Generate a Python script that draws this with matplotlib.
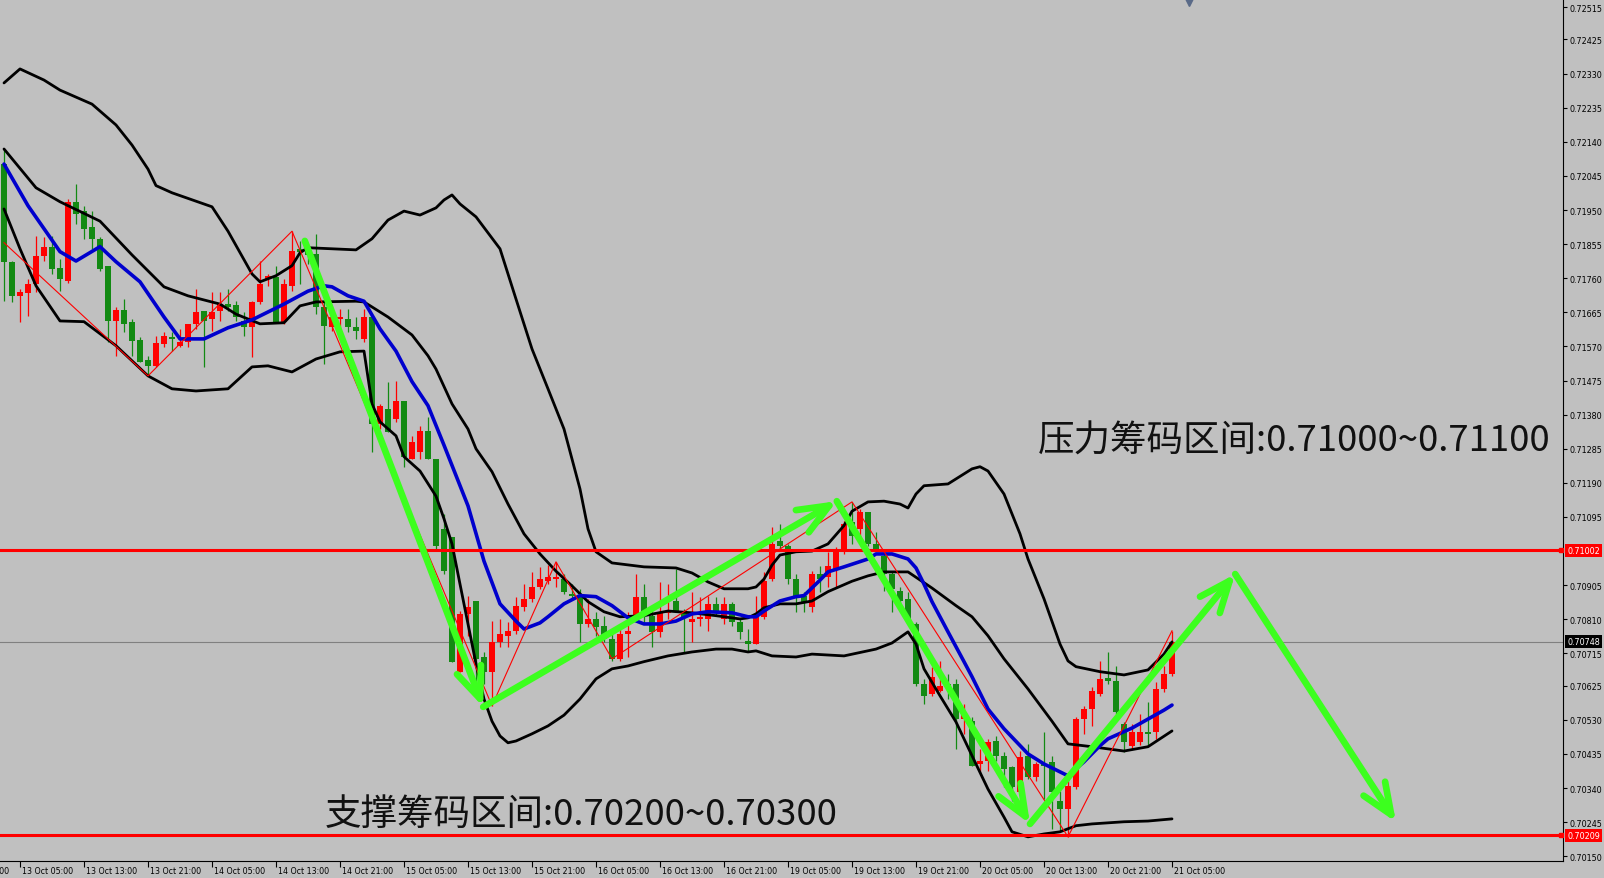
import matplotlib
matplotlib.use('Agg')
import matplotlib.pyplot as plt
import matplotlib.transforms as mtransforms
import numpy as np

PT = 1e-5  # prices below are written in points (0.00001)

# ---------------- candles (H1, 13 Oct 03:00 -> 21 Oct 05:00) ----------------
open_pts = [72078, 71806, 71711, 71719, 71744, 71823, 71848, 71789, 71752, 71973,
            71947, 71903, 71870, 71795, 71641, 71671, 71639, 71588, 71532, 71516,
            71577, 71597, 71572, 71583, 71633, 71668, 71647, 71668, 71688, 71685,
            71641, 71625, 71694, 71758, 71764, 71639, 71739, 71842, 71836, 71828,
            71680, 71625, 71647, 71647, 71625, 71591, 71652, 71354, 71396, 71368,
            71418, 71257, 71277, 71334, 71257, 71062, 71040, 70664, 70825, 70861,
            70705, 70664, 70747, 70764, 70778, 70845, 70867, 70900, 70916, 70922,
            70922, 70881, 70876, 70797, 70811, 70792, 70755, 70700, 70769, 70820,
            70873, 70820, 70775, 70828, 70861, 70833, 70803, 70811, 70811, 70853,
            70811, 70853, 70803, 70750, 70741, 70817, 70922, 71028, 71015, 70922,
            70876, 70845, 70936, 70927, 70950, 71001, 71081, 71062, 71109, 71020,
            70987, 70936, 70889, 70867, 70797, 70630, 70602, 70611, 70630, 70630,
            70532, 70527, 70407, 70415, 70471, 70430, 70399, 70329, 70430, 70371,
            70407, 70413, 70304, 70282, 70343, 70532, 70560, 70602, 70647, 70639,
            70519, 70458, 70469, 70496, 70496, 70616, 70658]
high_pts = [72120, 71808, 71730, 71758, 71878, 71875, 71878, 71814, 71981, 72023,
            71962, 71947, 71875, 71795, 71680, 71702, 71647, 71597, 71544, 71600,
            71611, 71611, 71619, 71633, 71730, 71668, 71722, 71722, 71730, 71696,
            71666, 71696, 71808, 71772, 71795, 71758, 71891, 71864, 71856, 71883,
            71694, 71660, 71674, 71674, 71652, 71674, 71652, 71410, 71472, 71474,
            71418, 71321, 71349, 71374, 71257, 71103, 71040, 70833, 70876, 70861,
            70719, 70805, 70811, 70803, 70873, 70908, 70942, 70956, 70961, 70970,
            70936, 70908, 70895, 70867, 70831, 70820, 70769, 70789, 70831, 70936,
            70908, 70848, 70914, 70908, 70950, 70839, 70887, 70873, 70876, 70873,
            70873, 70859, 70811, 70783, 70876, 70942, 71068, 71076, 71020, 70936,
            70887, 70944, 70959, 70998, 71012, 71084, 71137, 71117, 71109, 71054,
            70992, 70942, 70900, 70887, 70803, 70644, 70678, 70694, 70658, 70644,
            70574, 70538, 70449, 70477, 70485, 70441, 70402, 70443, 70463, 70413,
            70496, 70430, 70332, 70365, 70538, 70569, 70622, 70694, 70719, 70680,
            70524, 70519, 70546, 70580, 70636, 70680, 70778]
low_pts = [71696, 71694, 71639, 71655, 71722, 71808, 71772, 71724, 71747, 71911,
           71870, 71842, 71780, 71583, 71544, 71611, 71544, 71527, 71488, 71513,
           71569, 71557, 71569, 71569, 71619, 71513, 71613, 71641, 71668, 71641,
           71600, 71541, 71688, 71739, 71639, 71633, 71724, 71744, 71800, 71660,
           71521, 71613, 71619, 71611, 71591, 71583, 71277, 71340, 71332, 71360,
           71235, 71257, 71257, 71257, 71006, 70936, 70692, 70664, 70764, 70625,
           70630, 70569, 70733, 70733, 70769, 70833, 70859, 70895, 70908, 70900,
           70881, 70867, 70747, 70789, 70764, 70747, 70694, 70694, 70705, 70820,
           70797, 70733, 70761, 70811, 70831, 70719, 70747, 70792, 70778, 70820,
           70797, 70792, 70755, 70722, 70741, 70811, 70916, 71006, 70908, 70831,
           70831, 70831, 70887, 70900, 70900, 70992, 71020, 71034, 71015, 71001,
           70889, 70831, 70848, 70803, 70625, 70574, 70597, 70608, 70588, 70449,
           70491, 70402, 70385, 70388, 70415, 70343, 70304, 70324, 70365, 70360,
           70310, 70226, 70218, 70204, 70337, 70491, 70513, 70597, 70630, 70546,
           70441, 70449, 70460, 70458, 70477, 70608, 70652]
close_pts = [71806, 71711, 71722, 71744, 71823, 71848, 71786, 71758, 71973, 71939,
             71897, 71870, 71786, 71641, 71671, 71633, 71585, 71527, 71516, 71580,
             71600, 71591, 71583, 71633, 71666, 71641, 71666, 71688, 71680, 71652,
             71625, 71694, 71744, 71767, 71639, 71744, 71836, 71834, 71825, 71680,
             71628, 71652, 71652, 71625, 71613, 71652, 71354, 71405, 71332, 71418,
             71263, 71304, 71334, 71257, 71015, 70944, 70692, 70825, 70845, 70700,
             70664, 70747, 70769, 70778, 70848, 70867, 70900, 70922, 70927, 70927,
             70887, 70876, 70797, 70811, 70789, 70755, 70700, 70769, 70778, 70873,
             70820, 70775, 70828, 70833, 70831, 70817, 70811, 70817, 70853, 70833,
             70853, 70803, 70775, 70741, 70817, 70916, 71020, 71015, 70922, 70873,
             70859, 70936, 70922, 70959, 71001, 71076, 71042, 71109, 71020, 71006,
             70936, 70895, 70861, 70811, 70630, 70597, 70650, 70625, 70622, 70532,
             70546, 70402, 70415, 70469, 70430, 70393, 70343, 70427, 70371, 70407,
             70402, 70329, 70282, 70346, 70532, 70560, 70610, 70644, 70639, 70552,
             70469, 70496, 70496, 70491, 70616, 70658, 70748]

# ---------------- indicator lines (bar index, points) ----------------
ub_i = [0, 2, 5, 7, 11, 14, 16, 18, 19, 21, 26, 28, 31, 32, 34, 36, 37, 38, 44, 46,
        48, 50, 52, 54, 55, 56, 57, 59, 62, 64, 66, 68, 70, 72, 73, 74, 76, 80, 84, 86,
        88, 90, 93, 94, 95, 96, 97, 99, 101, 103, 105, 106, 108, 110, 112, 113, 114, 115,
        118, 119, 121, 122, 123, 125, 127, 128, 130, 132, 133, 134, 137, 140, 143, 145, 146]
ub_v = [72304, 72343, 72312, 72284, 72245, 72187, 72131, 72064, 72018, 71998, 71959,
        71891, 71772, 71750, 71767, 71795, 71831, 71845, 71839, 71870, 71922, 71947,
        71936, 71956, 71978, 71992, 71967, 71931, 71842, 71702, 71563, 71452, 71340,
        71173, 71062, 70998, 70967, 70956, 70953, 70939, 70914, 70895, 70895, 70900,
        70922, 70961, 70989, 70998, 71000, 71020, 71071, 71111, 71137, 71139, 71131,
        71120, 71159, 71182, 71187, 71201, 71229, 71235, 71223, 71159, 71048, 70978,
        70867, 70741, 70694, 70678, 70664, 70655, 70669, 70713, 70747]

mid_i = [0, 4, 7, 12, 16, 20, 23, 27, 29, 32, 35, 37, 39, 44, 45, 48, 51, 53, 54, 56,
         58, 59, 61, 63, 65, 67, 69, 71, 73, 75, 77, 80, 83, 86, 89, 92, 93, 94, 95, 97,
         99, 101, 103, 106, 108, 110, 113, 114, 116, 119, 121, 123, 125, 128, 131, 133,
         136, 140, 143, 146]
mid_v = [72120, 72012, 71973, 71919, 71825, 71736, 71711, 71688, 71660, 71633, 71636,
         71683, 71694, 71696, 71694, 71652, 71602, 71544, 71507, 71410, 71340, 71285,
         71221, 71131, 71048, 70992, 70944, 70903, 70859, 70831, 70817, 70820, 70833,
         70828, 70820, 70811, 70814, 70825, 70842, 70853, 70853, 70861, 70887, 70916,
         70931, 70942, 70942, 70927, 70897, 70848, 70817, 70764, 70700, 70616, 70526,
         70463, 70455, 70443, 70455, 70499]

ma_i = [0, 3, 7, 9, 12, 14, 17, 20, 22, 25, 28, 31, 33, 35, 38, 40, 41, 43, 45, 47,
        49, 51, 53, 55, 58, 60, 62, 64, 65, 67, 68, 70, 72, 74, 76, 78, 80, 82, 84, 86,
        88, 91, 93, 94, 95, 97, 99, 100, 102, 103, 105, 108, 109, 111, 113, 114, 115,
        116, 118, 120, 121, 123, 125, 128, 130, 133, 135, 137, 138, 141, 143, 145, 146]
ma_v = [72078, 71962, 71834, 71808, 71848, 71806, 71750, 71652, 71591, 71591, 71622,
        71644, 71666, 71688, 71724, 71739, 71736, 71711, 71696, 71619, 71557, 71472,
        71405, 71295, 71126, 70972, 70853, 70805, 70783, 70800, 70817, 70853, 70876,
        70873, 70848, 70814, 70797, 70797, 70805, 70825, 70831, 70828, 70817, 70817,
        70833, 70861, 70873, 70876, 70919, 70942, 70956, 70978, 70992, 70992, 70978,
        70953, 70908, 70859, 70775, 70692, 70650, 70560, 70505, 70435, 70407, 70374,
        70413, 70458, 70477, 70507, 70532, 70557, 70571]

lb_i = [0, 2, 4, 7, 10, 14, 18, 21, 24, 28, 31, 33, 36, 39, 42, 45, 46, 47, 49, 50,
        52, 54, 55, 56, 57, 58, 59, 60, 61, 62, 63, 64, 66, 68, 70, 72, 74, 76, 78, 80,
        83, 86, 89, 91, 93, 94, 96, 99, 101, 105, 109, 111, 113, 114, 115, 117, 119,
        121, 123, 125, 126, 128, 130, 132, 134, 136, 140, 143, 146]
lb_v = [71953, 71842, 71739, 71641, 71639, 71572, 71488, 71452, 71446, 71452, 71513,
        71516, 71499, 71535, 71555, 71557, 71410, 71360, 71321, 71263, 71223, 71153,
        71090, 71020, 70908, 70797, 70686, 70588, 70526, 70485, 70466, 70471, 70491,
        70513, 70543, 70588, 70644, 70672, 70680, 70692, 70708, 70719, 70727, 70727,
        70719, 70722, 70708, 70705, 70713, 70708, 70727, 70744, 70775, 70741, 70672,
        70597, 70524, 70430, 70337, 70259, 70218, 70204, 70212, 70218, 70235, 70240,
        70246, 70248, 70254]

zz_i = [0, 18, 36, 61, 69, 76, 106, 133, 146]
zz_v = [71859, 71488, 71891, 70569, 70970, 70700, 71137, 70204, 70778]

# green hand-drawn arrows (bar index, points)
arr_i = [37.6, 59.9, 104.1, 128.25, 153.9, 174.0]
arr_v = [71864, 70566, 71139, 70240, 70936, 70245]

# horizontal levels
resistance_level = 0.71002
support_level = 0.70209
bid_level = 0.70748

price_ticks = [0.72515, 0.72425, 0.72330, 0.72235, 0.72140, 0.72045, 0.71950, 0.71855,
               0.71760, 0.71665, 0.71570, 0.71475, 0.71380, 0.71285, 0.71190, 0.71095,
               0.70905, 0.70810, 0.70715, 0.70625, 0.70530, 0.70435, 0.70340, 0.70245,
               0.70150]
time_tick_idx = [-6, 2, 10, 18, 26, 34, 42, 50, 58, 66, 74, 82, 90, 98, 106, 114, 122,
                 130, 138, 146]
time_tick_labels = ['12 Oct 21:00', '13 Oct 05:00', '13 Oct 13:00', '13 Oct 21:00',
                    '14 Oct 05:00', '14 Oct 13:00', '14 Oct 21:00', '15 Oct 05:00',
                    '15 Oct 13:00', '15 Oct 21:00', '16 Oct 05:00', '16 Oct 13:00',
                    '16 Oct 21:00', '19 Oct 05:00', '19 Oct 13:00', '19 Oct 21:00',
                    '20 Oct 05:00', '20 Oct 13:00', '20 Oct 21:00', '21 Oct 05:00']

text_res = '压力筹码区间:0.71000~0.71100'
text_sup = '支撑筹码区间:0.70200~0.70300'

# ---------------- styles ----------------
BG = '#C0C0C0'
RED = '#FF0000'
GREEN = '#138A13'
BLUE = '#0000CD'
LIME = '#3CFF1E'

W, H = 1604, 879
fig = plt.figure(figsize=(W / 100, H / 100), dpi=100, facecolor=BG)
ax = fig.add_axes([0, 17 / H, 1563 / W, 862 / H])
ax.set_facecolor(BG)

o = np.array(open_pts) * PT
h = np.array(high_pts) * PT
l = np.array(low_pts) * PT
c = np.array(close_pts) * PT
idx = np.arange(len(c))
cols = np.where(c >= o, RED, GREEN)

ax.axhline(bid_level, color='#808080', lw=0.8, zorder=1)
ax.vlines(idx, l, h, colors=cols, lw=0.9, zorder=2)
body = np.maximum(np.abs(c - o), 0.000012)
ax.bar(idx, body, bottom=np.minimum(o, c), width=0.63, color=cols, lw=0, zorder=3)

ax.plot(ub_i, np.array(ub_v) * PT, color='black', lw=2.0, zorder=4,
        solid_capstyle='round', solid_joinstyle='round')
ax.plot(mid_i, np.array(mid_v) * PT, color='black', lw=2.0, zorder=4,
        solid_capstyle='round', solid_joinstyle='round')
ax.plot(lb_i, np.array(lb_v) * PT, color='black', lw=2.0, zorder=4,
        solid_capstyle='round', solid_joinstyle='round')
ax.plot(ma_i, np.array(ma_v) * PT, color=BLUE, lw=2.6, zorder=5,
        solid_capstyle='round', solid_joinstyle='round')
ax.plot(zz_i, np.array(zz_v) * PT, color=RED, lw=0.8, zorder=5)

ax.axhline(resistance_level, color=RED, lw=2.2, zorder=6)
ax.axhline(support_level, color=RED, lw=2.2, zorder=6)

av = np.array(arr_v) * PT
for k in range(len(arr_i) - 1):
    ax.annotate('', xy=(arr_i[k + 1], av[k + 1]), xytext=(arr_i[k], av[k]),
                arrowprops=dict(arrowstyle='->,head_length=0.8,head_width=0.33',
                                color=LIME, lw=4.8, mutation_scale=28,
                                shrinkA=0, shrinkB=0, capstyle='round',
                                joinstyle='round'),
                zorder=8)

ax.set_xlim(-0.5, 194.875)
ax.set_ylim(0.701367, 0.725378)

# axes styling
for s in ['left', 'top']:
    ax.spines[s].set_visible(False)
for s in ['right', 'bottom']:
    ax.spines[s].set_color('black')
    ax.spines[s].set_linewidth(0.8)
ax.yaxis.tick_right()
ax.set_yticks(price_ticks)
ax.set_yticklabels([f'{v:.5f}' for v in price_ticks])
ax.tick_params(axis='y', direction='out', length=3, width=0.8, pad=2,
               labelsize=5.8, colors='black')
ax.set_xticks(time_tick_idx[1:])
ax.set_xticklabels([])
ax.tick_params(axis='x', direction='out', length=4, width=0.8, colors='black')

bt = mtransforms.blended_transform_factory(ax.transData, ax.transAxes)
off = mtransforms.ScaledTranslation(2 / 100, 0, fig.dpi_scale_trans)
for ti, tl in zip(time_tick_idx, time_tick_labels):
    ax.text(ti, -9.5 / 862, tl, transform=bt + off, ha='left', va='center',
            fontsize=5.7, color='black', clip_on=False)

# price labels on the axis
yt = mtransforms.blended_transform_factory(ax.transAxes, ax.transData)
for v, fc in [(resistance_level, RED), (support_level, RED), (bid_level, 'black')]:
    ax.annotate(f'{v:.5f}', xy=(1.0, v), xycoords=yt, xytext=(3.2, 0),
                textcoords='offset points', ha='left', va='center', fontsize=5.8,
                color='white', annotation_clip=False, zorder=10,
                bbox=dict(boxstyle='square,pad=0.25', fc=fc, ec='none'))
for v in (resistance_level, support_level):
    ax.plot([1.0 - 2.5 / 1563], [v], transform=yt, marker='s', ms=3.5, color=RED,
            clip_on=False, zorder=11)

# chart-shift marker at top
ax.plot([1189 / 1563], [1 - 2 / 862], transform=ax.transAxes, marker='v', ms=7,
        color='#5A6A88', clip_on=False, zorder=9)

cjk = ['Noto Sans CJK SC', 'DejaVu Sans']
fig.text(1038 / W, 1 - 442 / H, text_res, fontsize=26.3, family=cjk, ha='left',
         va='center', color='#111111')
fig.text(325 / W, 1 - 815 / H, text_sup, fontsize=26.3, family=cjk, ha='left',
         va='center', color='#111111')

fig.savefig('out.png', dpi=100, facecolor=BG)
